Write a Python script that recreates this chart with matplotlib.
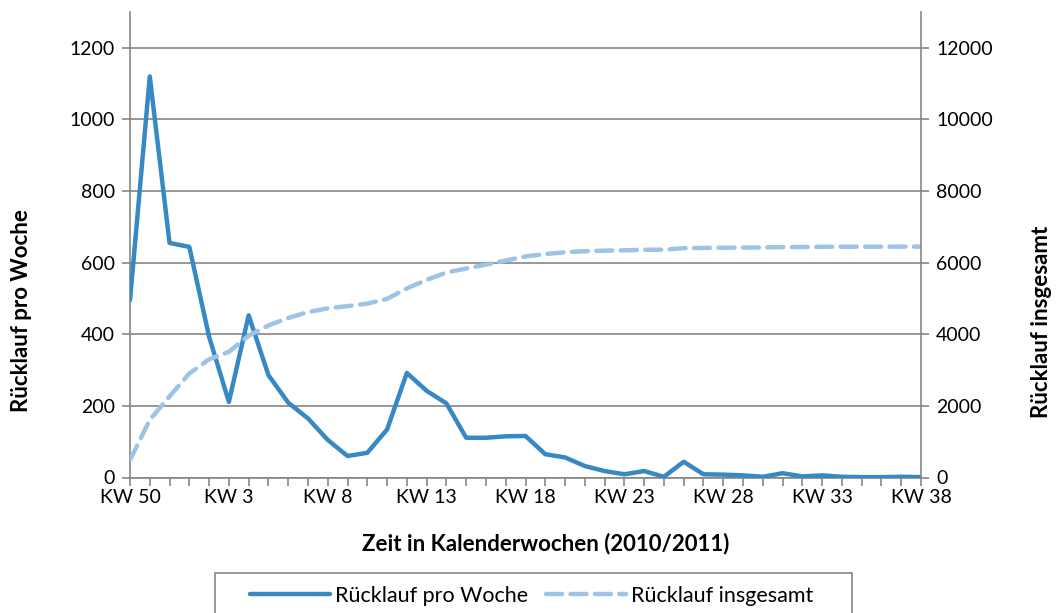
import matplotlib
matplotlib.use("Agg")
import matplotlib.pyplot as plt
from matplotlib.patches import Rectangle

# Kalenderwochen 2010/2011
wochen = ["KW 50", "KW 51", "KW 52"] + ["KW %d" % k for k in range(1, 39)]

# Rücklauf pro Woche (linke Achse)
pro_woche = [495, 1120, 655, 644, 393, 211, 453, 286, 209, 165,
             105, 60, 69, 134, 292, 242, 207, 111, 111, 115,
             116, 65, 56, 32, 18, 9, 18, 2, 44, 9,
             8, 6, 2, 12, 3, 6, 2, 1, 1, 2, 1]

# Rücklauf insgesamt (rechte Achse)
insgesamt = [490, 1610, 2265, 2905, 3300, 3510, 3960, 4245, 4455, 4620,
             4725, 4785, 4855, 4990, 5280, 5520, 5725, 5835, 5945, 6060,
             6175, 6240, 6290, 6320, 6335, 6345, 6360, 6362, 6405, 6412,
             6418, 6422, 6424, 6434, 6437, 6442, 6444, 6445, 6446, 6448, 6449]

FONT = "Lato"
GRAU = "#868686"
BLAU = "#3789C3"
HELLBLAU = "#9DC3E6"

plt.rcParams["font.family"] = FONT

fig = plt.figure(figsize=(10.6, 6.13), dpi=100)
ax = fig.add_axes([130 / 1060, 1 - 477.5 / 613, 791 / 1060, 465.5 / 613])
ax2 = ax.twinx()

x = list(range(len(wochen)))
l1, = ax.plot(x, pro_woche, color=BLAU, lw=3.2, solid_joinstyle="round",
              solid_capstyle="round", label="Rücklauf pro Woche", zorder=3)
l2, = ax2.plot(x, insgesamt, color=HELLBLAU, lw=3.2, dashes=(3.6, 1.9),
               dash_capstyle="round", label="Rücklauf insgesamt", zorder=2)

ax.set_xlim(0, len(wochen) - 1)
ax.set_ylim(0, 1300)
ax2.set_ylim(0, 13000)
ax.set_yticks(range(0, 1201, 200))
ax2.set_yticks(range(0, 12001, 2000))

ax.set_xticks(x)
ax.set_xticklabels([w if i % 5 == 0 else "" for i, w in enumerate(wochen)])

ax.grid(axis="y", color=GRAU, lw=1.2)
ax.set_axisbelow(True)

for a in (ax, ax2):
    for s in a.spines.values():
        s.set_visible(False)
ax.spines["left"].set_visible(True)
ax.spines["bottom"].set_visible(True)
ax2.spines["right"].set_visible(True)
for s in (ax.spines["left"], ax.spines["bottom"], ax2.spines["right"]):
    s.set_color(GRAU)
    s.set_linewidth(1.2)

ax.tick_params(axis="x", length=6, width=1.2, color=GRAU, labelsize=14, pad=2)
ax.tick_params(axis="y", length=6, width=1.2, color=GRAU, labelsize=14, pad=5)
ax2.tick_params(axis="y", length=6, width=1.2, color=GRAU, labelsize=14, pad=5)

fig.text(22 / 1060, 1 - 311 / 613, "Rücklauf pro Woche", rotation=90,
         ha="center", va="center", fontsize=16, fontweight="bold")
fig.text(1042 / 1060, 1 - 322 / 613, "Rücklauf insgesamt", rotation=90,
         ha="center", va="center", fontsize=16, fontweight="bold")
fig.text(546 / 1060, 1 - 544 / 613, "Zeit in Kalenderwochen (2010/2011)",
         ha="center", va="center", fontsize=16, fontweight="bold")

# Legende (Rahmen separat, unten abgeschnitten wie im Original)
leg = fig.legend(handles=[l1, l2], loc="center left", ncol=2,
                 bbox_to_anchor=(250 / 1060, 1 - 596 / 613), frameon=False,
                 fontsize=15.5, handlelength=3.7, columnspacing=0.85,
                 borderpad=0, handletextpad=0.25, borderaxespad=0)
fig.patches.append(Rectangle((215 / 1060, -0.02), 637 / 1060, 0.02 + 40 / 613,
                             transform=fig.transFigure, fill=False,
                             edgecolor=GRAU, lw=1.2))

fig.savefig("out.png", dpi=100)
